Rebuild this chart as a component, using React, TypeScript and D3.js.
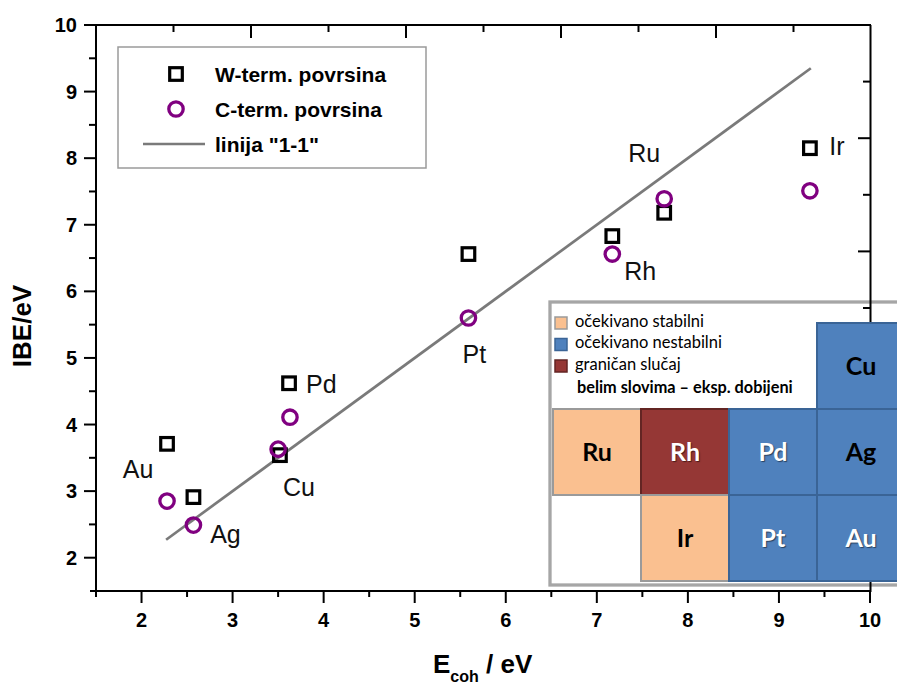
import React from "react";
import * as d3 from "d3";

const metals = ["Au", "Ag", "Cu", "Pd", "Pt", "Rh", "Ru", "Ir"];
const ecohW = [2.28, 2.57, 3.52, 3.62, 5.59, 7.17, 7.74, 9.34];
const ibeW = [3.71, 2.91, 3.54, 4.62, 6.56, 6.83, 7.18, 8.15];
const ecohC = [2.28, 2.57, 3.5, 3.63, 5.59, 7.17, 7.74, 9.34];
const ibeC = [2.85, 2.49, 3.63, 4.11, 5.6, 6.56, 7.39, 7.51];
const oneToOne = [2.27, 9.35];
const xTicks = [2, 3, 4, 5, 6, 7, 8, 9, 10];
const yTicks = [2, 3, 4, 5, 6, 7, 8, 9, 10];

const legendLabels = ["W-term. povrsina", "C-term. povrsina", 'linija "1-1"'];

const insetCats = ["očekivano stabilni", "očekivano nestabilni", "graničan slučaj"];
const insetNote = "belim slovima – eksp. dobijeni";
const cellNames = ["Cu", "Ru", "Rh", "Pd", "Ag", "Ir", "Pt", "Au"];
const cellRow = [0, 1, 1, 1, 1, 2, 2, 2];
const cellCol = [3, 0, 1, 2, 3, 1, 2, 3];
const cellCat = [1, 0, 2, 1, 1, 0, 1, 1];
const cellWhite = [false, false, true, true, false, false, true, true];

// label offsets (pixels) relative to the anchor marker
const labelAnchor = ["W", "C", "W", "W", "C", "C", "W", "W"];
const labelDx = [-29, 32, 19, 17, 6, 28, -20, 27];
const labelDy = [34, 18, 41, 10, 45, 26, -51, 7];
const labelAnchorType = ["middle", "middle", "middle", "start", "middle", "middle", "middle", "middle"];

const catFill = ["#FAC090", "#4F81BD", "#953735"];
const catStroke = ["#9a9a9a", "#3A6496", "#632523"];

export default function App() {
  const W = 897;
  const H = 684;
  const x = d3.scaleLinear().domain([1.5, 10]).range([96, 870]);
  const y = d3.scaleLinear().domain([1.5, 10]).range([591, 25]);
  const xTop = d3.scaleLinear().domain([0, 5]).range([96, 871]);
  const yRight = d3.scaleLinear().domain([0, 5]).range([25, 591]);
  const halfSteps = d3.range(0, 5.01, 0.5);
  const xMinor = d3.range(2.5, 10, 1);
  const yMinor = d3.range(2.5, 10, 1);
  const font = "'Liberation Sans', Arial, sans-serif";
  const cfont = "Lato, 'Open Sans', sans-serif";
  const purple = "#800080";
  const lineGen = d3.line<number>().x((d) => x(d)).y((d) => y(d));

  const cx = d3.scaleLinear().domain([0, 1]).range([553, 641]);
  const cy = d3.scaleLinear().domain([0, 1]).range([323, 409]);

  return (
    <div style={{ position: "absolute", left: 0, top: 0, width: W, height: H, overflow: "hidden", background: "#fff" }}>
      <svg width={W} height={H} style={{ display: "block" }}>
        <rect width={W} height={H} fill="#fff" />
        {/* 1-1 line */}
        <path d={lineGen(oneToOne) || ""} stroke="#7a7a7a" strokeWidth={2.7} fill="none" />
        {/* W markers */}
        {metals.map((m, i) => (
          <rect key={"w" + m} x={x(ecohW[i]) - 6.3} y={y(ibeW[i]) - 6.3} width={12.6} height={12.6}
            fill="none" stroke="#000" strokeWidth={3.2} />
        ))}
        {metals.map((m, i) => (
          <circle key={"c" + m} cx={x(ecohC[i])} cy={y(ibeC[i])} r={7.2} fill="none" stroke={purple} strokeWidth={3.3} />
        ))}
        {metals.map((m, i) => {
          const ax = labelAnchor[i] === "W" ? x(ecohW[i]) : x(ecohC[i]);
          const ay = labelAnchor[i] === "W" ? y(ibeW[i]) : y(ibeC[i]);
          return (
            <text key={"l" + m} x={ax + labelDx[i]} y={ay + labelDy[i]} fontFamily={font} fontSize={25}
              textAnchor={labelAnchorType[i] as any} fill="#111">{m}</text>
          );
        })}

        {/* legend */}
        <rect x={118} y={47} width={308} height={121} fill="#fff" stroke="#9a9a9a" strokeWidth={1.5} />
        <rect x={169.7} y={67.7} width={12.6} height={12.6} fill="none" stroke="#000" strokeWidth={3.2} />
        <circle cx={176} cy={109} r={7.2} fill="none" stroke={purple} strokeWidth={3.3} />
        <line x1={143} x2={205} y1={144} y2={144} stroke="#7a7a7a" strokeWidth={2.7} />
        {legendLabels.map((l, i) => (
          <text key={l} x={215} y={74 + i * 35 + 7.5} fontFamily={font} fontWeight="bold" fontSize={21} fill="#000">{l}</text>
        ))}

        {/* inset background */}
        <rect x={550} y={302} width={360} height={283} fill="#fff" stroke="#a6a6a6" strokeWidth={3.3} />

        {/* frame: axes */}
        <line x1={96} x2={96} y1={25} y2={597} stroke="#000" strokeWidth={2} />
        <line x1={90} x2={871} y1={591} y2={591} stroke="#000" strokeWidth={2} />
        <line x1={96} x2={871} y1={25} y2={25} stroke="#000" strokeWidth={2} />
        <line x1={870.5} x2={870.5} y1={25} y2={592} stroke="#000" strokeWidth={2} />
        {xTicks.map((t) => (
          <g key={"xt" + t}>
            <line x1={x(t)} x2={x(t)} y1={591} y2={603} stroke="#000" strokeWidth={2} />
            <text x={x(t)} y={627} textAnchor="middle" fontFamily={font} fontWeight="bold" fontSize={20}>{t}</text>
          </g>
        ))}
        {xMinor.map((t) => (
          <line key={"xm" + t} x1={x(t)} x2={x(t)} y1={591} y2={597} stroke="#000" strokeWidth={2} />
        ))}
        {yTicks.map((t) => (
          <g key={"yt" + t}>
            <line x1={84} x2={96} y1={y(t)} y2={y(t)} stroke="#000" strokeWidth={2} />
            <text x={77} y={y(t) + 7} textAnchor="end" fontFamily={font} fontWeight="bold" fontSize={20}>{t}</text>
          </g>
        ))}
        {yMinor.map((t) => (
          <line key={"ym" + t} x1={89} x2={96} y1={y(t)} y2={y(t)} stroke="#000" strokeWidth={2} />
        ))}
        {halfSteps.filter((t) => t > 0 && t < 5).map((t) => (
          <line key={"tt" + t} x1={xTop(t)} x2={xTop(t)} y1={25} y2={Number.isInteger(t) ? 38 : 32}
            stroke="#000" strokeWidth={2} />
        ))}
        {halfSteps.filter((t) => t > 0 && t < 5).map((t) => (
          <line key={"rt" + t} x1={870} x2={Number.isInteger(t) ? 858 : 863} y1={yRight(t)} y2={yRight(t)}
            stroke="#000" strokeWidth={2} />
        ))}

        {/* axis titles */}
        <text transform="translate(31,326) rotate(-90)" textAnchor="middle" fontFamily={font} fontWeight="bold" fontSize={26}>IBE/eV</text>
        <text x={433} y={673} fontFamily={font} fontWeight="bold" fontSize={26}>
          E<tspan fontSize={16} dy={9}>coh</tspan><tspan dy={-9}> / eV</tspan>
        </text>

        {/* inset legend */}
        {insetCats.map((c, i) => (
          <g key={c}>
            <rect x={555} y={317 + i * 21.5} width={12} height={12} fill={catFill[i]} stroke={catStroke[i]} strokeWidth={1.5} />
            <text x={575} y={326.5 + i * 21.5} fontFamily={cfont} fontSize={16.5} fill="#000">{c}</text>
          </g>
        ))}
        <text x={577} y={393} fontFamily={cfont} fontWeight="bold" fontSize={16.3} fill="#000">{insetNote}</text>

        {/* inset cells */}
        {cellNames.map((n, i) => (
          <g key={"cell" + n}>
            <rect x={cx(cellCol[i])} y={cy(cellRow[i])} width={cx(1) - cx(0)} height={cy(1) - cy(0)}
              fill={catFill[cellCat[i]]} stroke={catStroke[cellCat[i]]} strokeWidth={2} />
            <text x={cx(cellCol[i] + 0.5)} y={cy(cellRow[i] + 0.5) + 8.5} textAnchor="middle" fontFamily={cfont}
              fontWeight="bold" fontSize={25} fill={cellWhite[i] ? "#fff" : "#000"}
              style={cellWhite[i] ? { textShadow: "1px 1px 1px rgba(0,0,0,0.5)" } : undefined}>{n}</text>
          </g>
        ))}
      </svg>
    </div>
  );
}
